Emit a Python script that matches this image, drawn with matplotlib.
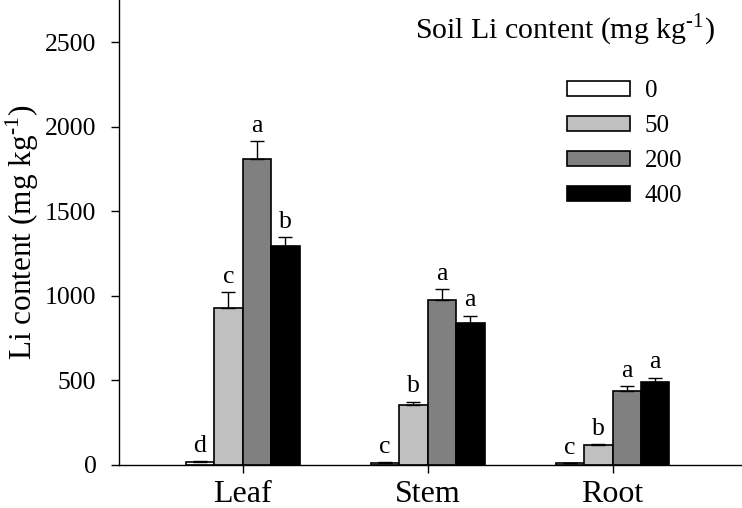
import numpy as np
import matplotlib
matplotlib.use('Agg')
import matplotlib.pyplot as plt

plt.rcParams['font.family'] = ['Liberation Serif', 'DejaVu Serif']
plt.rcParams['mathtext.fontset'] = 'custom'
plt.rcParams['mathtext.rm'] = 'Liberation Serif'

# Data
organs = ['Leaf', 'Stem', 'Root']
soil_levels = ['0', '50', '200', '400']
li_leaf = [15, 925, 1812, 1296]
li_stem = [10, 356, 973, 838]
li_root = [8, 117, 438, 492]
err_leaf = [6, 95, 105, 52]
err_stem = [4, 18, 66, 45]
err_root = [3, 6, 28, 24]
letters_leaf = ['d', 'c', 'a', 'b']
letters_stem = ['c', 'b', 'a', 'a']
letters_root = ['c', 'b', 'a', 'a']

values = np.array([li_leaf, li_stem, li_root])
errors = np.array([err_leaf, err_stem, err_root])
letters = [letters_leaf, letters_stem, letters_root]
colors = ['white', '#c0c0c0', '#808080', 'black']

fig = plt.figure(figsize=(7.42, 5.08), dpi=100)
ax = fig.add_axes([0.160, 0.085, 0.840, 0.915])

x = np.arange(len(organs))
w = 0.154
for j in range(len(soil_levels)):
    pos = x + (j - 1.5) * w
    ax.bar(pos, values[:, j], width=w, color=colors[j], edgecolor='black',
           linewidth=1.2, label=soil_levels[j], zorder=2)
    ax.errorbar(pos, values[:, j],
                yerr=[np.zeros(len(organs)), errors[:, j]],
                fmt='none', ecolor='black', elinewidth=1.0, capsize=5,
                capthick=1.0, zorder=3)
    for i in range(len(organs)):
        ax.text(pos[i], values[i, j] + errors[i, j] + 25, letters[i][j],
                ha='center', va='bottom', fontsize=18.5)

ax.set_xlim(-0.67, 2.70)
ax.set_ylim(0, 2750)
ax.set_yticks([0, 500, 1000, 1500, 2000, 2500])
ax.set_xticks(x)
ax.set_xticklabels(organs, fontsize=23)
ax.tick_params(axis='y', labelsize=18.5, direction='out', length=6, width=1, pad=10)
ax.tick_params(axis='x', direction='out', length=6, width=1, pad=5)
ax.set_ylabel(r'Li content (mg kg$^{\text{-1}}$)', fontsize=22.5, labelpad=3)

for s in ['top', 'right']:
    ax.spines[s].set_visible(False)
for s in ['left', 'bottom']:
    ax.spines[s].set_linewidth(1.0)

ax.text(0.716, 0.935, r'Soil Li content (mg kg$^{\text{-1}}$)', transform=ax.transAxes,
        ha='center', va='center', fontsize=21.5)
ax.legend(loc='upper left', bbox_to_anchor=(0.719, 0.827), frameon=False,
          fontsize=18, handlelength=2.52, handleheight=0.52,
          labelspacing=0.52, handletextpad=0.6, borderaxespad=0,
          borderpad=0)

fig.savefig('out.png', dpi=100)
